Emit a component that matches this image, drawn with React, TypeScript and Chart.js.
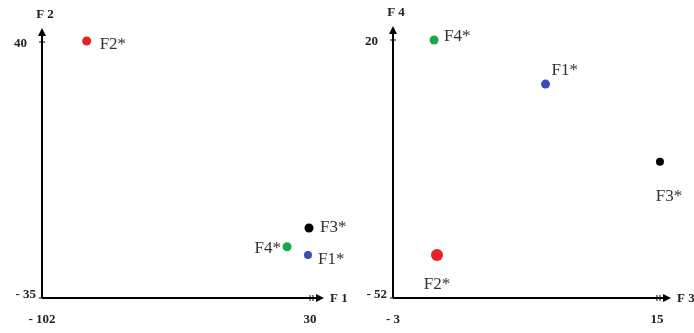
import React, { useEffect, useRef } from "react";
import { Chart, registerables } from "chart.js";

Chart.register(...registerables);

// Left panel (F1 x F2)
const leftNames = ["F1*", "F2*", "F3*", "F4*"];
const leftX = [29, -80, 29.5, 18.7];
const leftY = [-22.4, 40.3, -14.5, -20];
const leftXTicks = [-102, 30];
const leftYTicks = [-35, 40];

// Right panel (F3 x F4)
const rightNames = ["F1*", "F2*", "F3*", "F4*"];
const rightX = [7.4, 0, 15.2, -0.2];
const rightY = [7.7, -40, -14, 20];
const rightXTicks = [-3, 15];
const rightYTicks = [-52, 20];

const pointColors = ["#3b4db3", "#e8202a", "#000000", "#1ba84b"];

type Cfg = {
  names: string[];
  xs: number[];
  ys: number[];
  xt: number[];
  yt: number[];
  xTitle: string;
  yTitle: string;
  radii: number[];
  offsets: [number, number, CanvasTextAlign][];
  padding: { left: number; right: number; top: number; bottom: number };
};

const fmt = (v: number) => (v < 0 ? "- " + Math.abs(v) : String(v));

const axesPlugin = {
  id: "customAxes",
  afterDatasetsDraw(chart: any, _args: any, opts: any) {
    const cfg: Cfg = opts.cfg;
    const ctx = chart.ctx as CanvasRenderingContext2D;
    const xs = chart.scales.x;
    const ys = chart.scales.y;
    const x0 = xs.getPixelForValue(cfg.xt[0]);
    const x1 = xs.getPixelForValue(cfg.xt[1]);
    const y0 = ys.getPixelForValue(cfg.yt[0]);
    const y1 = ys.getPixelForValue(cfg.yt[1]);
    ctx.save();
    ctx.strokeStyle = "#000";
    ctx.fillStyle = "#000";
    ctx.lineWidth = 2;
    // y axis
    const yTop = y1 - 12;
    ctx.beginPath();
    ctx.moveTo(x0, y0);
    ctx.lineTo(x0, yTop + 4);
    ctx.stroke();
    ctx.beginPath();
    ctx.moveTo(x0, yTop - 2);
    ctx.lineTo(x0 - 4, yTop + 6);
    ctx.lineTo(x0 + 4, yTop + 6);
    ctx.closePath();
    ctx.fill();
    // x axis
    const xEnd = x1 + 12;
    ctx.beginPath();
    ctx.moveTo(x0, y0);
    ctx.lineTo(xEnd - 4, y0);
    ctx.stroke();
    ctx.beginPath();
    ctx.moveTo(xEnd + 2, y0);
    ctx.lineTo(xEnd - 6, y0 - 4);
    ctx.lineTo(xEnd - 6, y0 + 4);
    ctx.closePath();
    ctx.fill();
    // tick marks
    ctx.lineWidth = 1;
    ctx.beginPath();
    ctx.moveTo(x0 - 3, y1);
    ctx.lineTo(x0 + 3, y1);
    ctx.moveTo(x0 - 3, y0);
    ctx.lineTo(x0 + 1, y0);
    ctx.moveTo(x1, y0 - 3);
    ctx.lineTo(x1, y0 + 3);
    ctx.moveTo(x1 + 3, y0 - 3);
    ctx.lineTo(x1 + 3, y0 + 3);
    ctx.stroke();
    // tick labels
    ctx.font = "bold 13px 'Liberation Serif', serif";
    ctx.fillStyle = "#222";
    ctx.textAlign = "right";
    ctx.textBaseline = "middle";
    ctx.fillText(fmt(cfg.yt[1]), x0 - 15, y1 + 2);
    ctx.fillText(fmt(cfg.yt[0]), x0 - 6, y0 - 3);
    ctx.textAlign = "center";
    ctx.textBaseline = "top";
    ctx.fillText(fmt(cfg.xt[0]), x0, y0 + 15);
    ctx.fillText(fmt(cfg.xt[1]), x1, y0 + 15);
    // axis titles
    ctx.textAlign = "center";
    ctx.textBaseline = "middle";
    ctx.fillText(cfg.yTitle, x0 + 3, yTop - 15);
    ctx.textAlign = "left";
    ctx.fillText(cfg.xTitle, xEnd + 8, y0 + 1);
    // point labels
    ctx.font = "17px 'Liberation Serif', serif";
    ctx.fillStyle = "#333";
    ctx.textBaseline = "middle";
    cfg.names.forEach((n, i) => {
      const px = xs.getPixelForValue(cfg.xs[i]);
      const py = ys.getPixelForValue(cfg.ys[i]);
      const [dx, dy, al] = cfg.offsets[i];
      ctx.textAlign = al;
      ctx.fillText(n, px + dx, py + dy);
    });
    ctx.restore();
  },
};

function Panel({ cfg, width }: { cfg: Cfg; width: number }) {
  const ref = useRef<HTMLCanvasElement | null>(null);
  useEffect(() => {
    if (!ref.current) return;
    const chart = new Chart(ref.current, {
      type: "scatter",
      data: {
        datasets: [
          {
            data: cfg.xs.map((x, i) => ({ x, y: cfg.ys[i] })),
            pointBackgroundColor: pointColors,
            pointBorderColor: pointColors,
            pointRadius: cfg.radii,
            pointBorderWidth: 0,
            clip: false,
          } as any,
        ],
      },
      options: {
        responsive: false,
        animation: false,
        layout: { padding: cfg.padding },
        plugins: {
          legend: { display: false },
          tooltip: { enabled: false },
          customAxes: { cfg },
        } as any,
        scales: {
          x: { type: "linear", display: false, min: cfg.xt[0], max: cfg.xt[1] },
          y: { type: "linear", display: false, min: cfg.yt[0], max: cfg.yt[1] },
        },
      },
      plugins: [axesPlugin],
    });
    return () => chart.destroy();
  }, []);
  return <canvas ref={ref} width={width} height={333} style={{ display: "block" }} />;
}

const leftCfg: Cfg = {
  names: leftNames,
  xs: leftX,
  ys: leftY,
  xt: leftXTicks,
  yt: leftYTicks,
  xTitle: "F 1",
  yTitle: "F 2",
  radii: [4, 4.5, 4.5, 4.5],
  offsets: [
    [10, 5, "left"],
    [13, 4, "left"],
    [11, 0, "left"],
    [-6, 2, "right"],
  ],
  padding: { left: 42, right: 37, top: 42, bottom: 35 },
};

const rightCfg: Cfg = {
  names: rightNames,
  xs: rightX,
  ys: rightY,
  xt: rightXTicks,
  yt: rightYTicks,
  xTitle: "F 3",
  yTitle: "F 4",
  radii: [4.5, 6, 4, 4.5],
  offsets: [
    [6, -14, "left"],
    [0, 30, "center"],
    [9, 35, "center"],
    [10, -3, "left"],
  ],
  padding: { left: 46, right: 37, top: 40, bottom: 35 },
};

export default function App() {
  return (
    <div style={{ position: "absolute", left: 0, top: 0, width: 694, height: 333, background: "#fff", display: "flex" }}>
      <Panel cfg={leftCfg} width={347} />
      <Panel cfg={rightCfg} width={347} />
    </div>
  );
}
